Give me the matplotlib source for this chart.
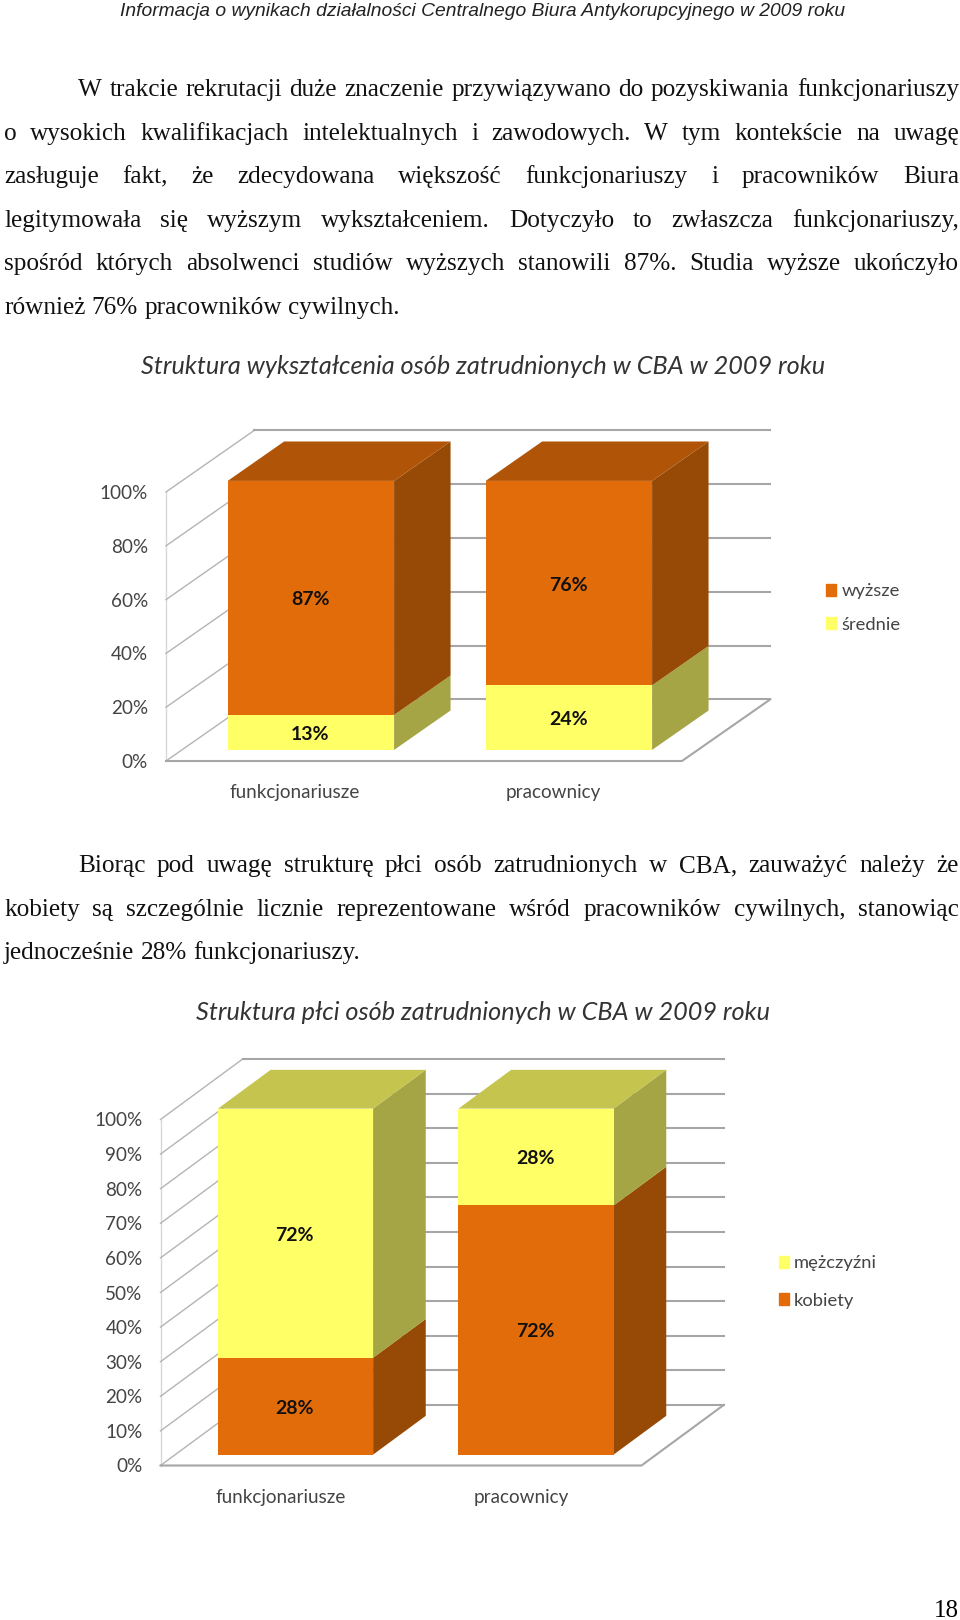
import matplotlib
matplotlib.use('Agg')
import matplotlib.pyplot as plt
from matplotlib.patches import Patch

W, H = 960, 1620

# text of the page
header = 'Informacja o wynikach działalności Centralnego Biura Antykorupcyjnego w 2009 roku'
para1 = ['W trakcie rekrutacji duże znaczenie przywiązywano do pozyskiwania funkcjonariuszy',
         'o wysokich kwalifikacjach intelektualnych i zawodowych. W tym kontekście na uwagę',
         'zasługuje fakt, że zdecydowana większość funkcjonariuszy i pracowników Biura',
         'legitymowała się wyższym wykształceniem. Dotyczyło to zwłaszcza funkcjonariuszy,',
         'spośród których absolwenci studiów wyższych stanowili 87%. Studia wyższe ukończyło',
         'również 76% pracowników cywilnych.']
para2 = ['Biorąc pod uwagę strukturę płci osób zatrudnionych w CBA, zauważyć należy że',
         'kobiety są szczególnie licznie reprezentowane wśród pracowników cywilnych, stanowiąc',
         'jednocześnie 28% funkcjonariuszy.']
page_no = '18'

# chart data
categories = ['funkcjonariusze', 'pracownicy']

edu_title = 'Struktura wykształcenia osób zatrudnionych w CBA w 2009 roku'
edu_ticks = [0, 20, 40, 60, 80, 100]
edu_wyzsze = [87, 76]
edu_srednie = [13, 24]

sex_title = 'Struktura płci osób zatrudnionych w CBA w 2009 roku'
sex_ticks = [0, 10, 20, 30, 40, 50, 60, 70, 80, 90, 100]
sex_kobiety = [28, 72]
sex_mezczyzni = [72, 28]

ORANGE = ('#e36c0a', '#964a05', '#b05508')   # front, side, top
YELLOW = ('#ffff66', '#a5a545', '#c4c44f')
GRID = '#a6a6a6'
WALL = '#b4b4b4'
CHART_FONT = ['Lato', 'DejaVu Sans']

fig = plt.figure(figsize=(W / 100, H / 100), dpi=100)
page = fig.add_axes([0, 0, 1, 1])
page.set_xlim(0, W)
page.set_ylim(H, 0)
page.axis('off')
renderer = fig.canvas.get_renderer()


def put_line(line, y, x0, x1, justify):
    # word by word, so the gaps can be stretched out to the right margin
    words = line.split(' ')
    items = [page.text(x0, y, w, family='Liberation Serif', fontsize=18.15,
                       va='baseline', color='#111111') for w in words]
    widths = [t.get_window_extent(renderer).width for t in items]
    space = 6.3
    if justify and len(words) > 1:
        space = (x1 - x0 - sum(widths)) / (len(words) - 1)
    x = x0
    for t, w in zip(items, widths):
        t.set_x(x)
        x += w + space


def put_paragraph(lines, y0):
    for i, line in enumerate(lines):
        x0 = 78 if i == 0 else 4
        put_line(line, y0 + i * 43.6, x0, 959, i < len(lines) - 1)


def chart(left, right, top, bottom, ky, ticks, series, colors, labels, title, title_y, leg_x, leg_y, leg_gap, xpad):
    ax = fig.add_axes([left / W, 1 - bottom / H, (right - left) / W, (bottom - top) / H])
    ax.set_xlim(-0.5, 1.5)
    ax.set_ylim(0, 100)
    ax.patch.set_visible(False)
    for s in ax.spines.values():
        s.set_visible(False)
    ax.set_xticks(range(len(categories)), categories, family=CHART_FONT, fontsize=13.6, color='#444444')
    ax.set_yticks(ticks, [f'{t}%' for t in ticks], family=CHART_FONT, fontsize=13.6, color='#444444')
    ax.tick_params(length=0)
    ax.tick_params(axis='x', pad=xpad)
    ax.tick_params(axis='y', pad=13)

    # oblique depth: one unit of z moves kx to the right and ky up
    kx = 0.342
    z0, z1 = 0.18, 0.82
    width = 0.645

    # walls and floor
    ax.plot([-0.5, -0.5], [0, 100], color='#d8d8d8', lw=1, clip_on=False, zorder=1)
    for t in ticks:
        ax.plot([-0.5, -0.5 + kx], [t, t + ky], color=WALL, lw=1, clip_on=False, zorder=1)
        ax.plot([-0.5 + kx, 1.5 + kx], [t + ky, t + ky], color=GRID, lw=1.5, clip_on=False, zorder=1)
    ax.plot([-0.5, 1.5, 1.5 + kx], [0, 0, ky], color=GRID, lw=1.5, clip_on=False, zorder=1)

    # stacked bars: side and top polygons, then the front
    for i in range(len(categories)):
        base = 0
        xl = i - width / 2 + z0 * kx
        xr = i + width / 2 + z0 * kx
        dx = (z1 - z0) * kx
        yf = z0 * ky
        dy = (z1 - z0) * ky
        for vals, col in zip(series, colors):
            v = vals[i]
            ax.fill([xr, xr + dx, xr + dx, xr],
                    [base + yf, base + yf + dy, base + v + yf + dy, base + v + yf],
                    color=col[1], lw=0, clip_on=False, zorder=3)
            ax.bar(xl + width / 2, v, width, bottom=base + yf, color=col[0], lw=0, clip_on=False, zorder=4)
            ax.annotate(f'{v}%', (xl + width / 2, base + yf + v / 2), xytext=(-0.5, -1.4),
                        textcoords='offset points', ha='center', va='center',
                        family=CHART_FONT, fontsize=14, fontweight='bold', color='#111111', zorder=5)
            base += v
        ax.fill([xl, xl + dx, xr + dx, xr],
                [base + yf, base + yf + dy, base + yf + dy, base + yf],
                color=colors[-1][2], lw=0, clip_on=False, zorder=3)

    page.text(483, title_y, title, ha='center', va='center', family=CHART_FONT, style='italic',
              fontsize=18.2, color='#333333')
    handles = [Patch(color=c[0], label=l) for c, l in labels]
    leg = fig.legend(handles=handles, loc='center left', bbox_to_anchor=(leg_x / W, 1 - leg_y / H),
                     frameon=False, handlelength=0.55, handleheight=0.65, handletextpad=0.28,
                     labelspacing=leg_gap, prop={'family': CHART_FONT, 'size': 13.2}, borderpad=0, borderaxespad=0)
    for t in leg.get_texts():
        t.set_color('#444444')
    return ax


page.text(483, 12, header, ha='center', va='center', family='Liberation Sans', style='italic',
          fontsize=13.9, color='#222222')
put_paragraph(para1, 96)
put_paragraph(para2, 872)
page.text(959, 1617, page_no, ha='right', va='baseline', family='Liberation Serif', fontsize=18)

chart(166, 682, 492, 761, 22.9, edu_ticks, [edu_srednie, edu_wyzsze], [YELLOW, ORANGE],
      [(ORANGE, 'wyższe'), (YELLOW, 'średnie')], edu_title, 366, 826, 608, 0.93, 16.5)
chart(160.5, 641.5, 1119.5, 1465.5, 17.5, sex_ticks, [sex_kobiety, sex_mezczyzni], [ORANGE, YELLOW],
      [(YELLOW, 'mężczyźni'), (ORANGE, 'kobiety')], sex_title, 1012, 779, 1282, 1.15, 17)

fig.savefig('out.png', dpi=100)
